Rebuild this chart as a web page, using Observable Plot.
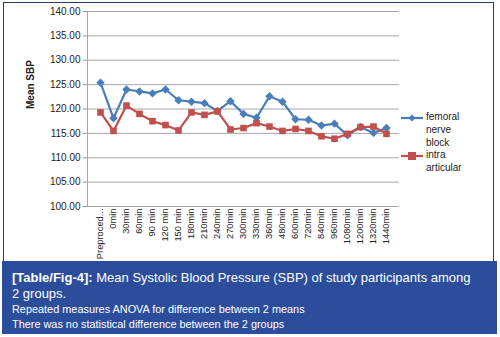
<!DOCTYPE html>
<html>
<head>
<meta charset="utf-8">
<script src="https://cdn.jsdelivr.net/npm/d3@7"></script>
<script src="https://cdn.jsdelivr.net/npm/@observablehq/plot@0.6"></script>
<style>
  html, body { margin: 0; padding: 0; background: #fff; }
  #wrap { position: relative; width: 500px; height: 337px; overflow: hidden; font-family: "Liberation Sans", Arial, sans-serif; }
  #chartbox { position: absolute; left: 3px; top: 2px; width: 491px; height: 259px; border: 1.5px solid #243e68; border-bottom: none; box-sizing: border-box; }
  #chart { position: absolute; left: 5px; top: 3px; }
  #legend { position: absolute; left: 400px; top: 110px; font-size: 10px; color: #222; line-height: 13px; }
  .li { position: relative; padding-left: 26px; }
  .li svg { position: absolute; left: 0; top: 3px; }
  #caption { position: absolute; left: 2px; top: 261px; width: 495px; height: 73px; background: #2b4d9b; color: #fff; box-sizing: border-box; padding: 9px 0 0 10px; }
  #caption .t1 { font-size: 13px; line-height: 15.5px; }
  #caption .t2 { font-size: 10.9px; line-height: 14.5px; margin-top: 1px; }
</style>
</head>
<body>
<div id="wrap">
  <div id="chartbox"></div>
  <div id="chart"></div>
  <div id="legend"></div>
  <div id="caption">
    <div class="t1"><b>[Table/Fig-4]:</b> Mean Systolic Blood Pressure (SBP) of study participants among<br>2 groups.</div>
    <div class="t2">Repeated measures ANOVA for difference between 2 means<br>There was no statistical difference between the 2 groups</div>
  </div>
</div>
<script>
const categories = ["Preproced...", "0min", "30min", "60min", "90 min", "120 min", "150 min", "180min", "210min", "240min", "270min", "300min", "330min", "360min", "480min", "600min", "720min", "840min", "960min", "1080min", "1200min", "1320min", "1440min"];
const femoral = [125.4, 118.1, 124.0, 123.6, 123.2, 124.0, 121.8, 121.5, 121.2, 119.6, 121.6, 119.0, 118.2, 122.6, 121.5, 117.9, 117.8, 116.6, 117.0, 114.6, 116.3, 115.1, 116.1];
const intra = [119.3, 115.5, 120.7, 119.0, 117.5, 116.7, 115.6, 119.3, 118.8, 119.5, 115.8, 116.1, 117.1, 116.4, 115.5, 115.9, 115.5, 114.4, 113.9, 114.9, 116.3, 116.4, 114.9];
const yTicks = [100, 105, 110, 115, 120, 125, 130, 135, 140];
const seriesNames = ["femoral nerve block", "intra articular"];
const seriesColors = ["#4a7ebb", "#c0504d"];

const fem = categories.map((c, i) => ({cat: c, v: femoral[i]}));
const ia = categories.map((c, i) => ({cat: c, v: intra[i]}));

const chart = Plot.plot({
  width: 490,
  height: 258,
  marginLeft: 82,
  marginRight: 96,
  marginTop: 8,
  marginBottom: 55,
  style: {fontFamily: "Liberation Sans, Arial, sans-serif", fontSize: "10px", color: "#222", background: "transparent"},
  x: {type: "point", domain: categories, padding: 0.5, align: 0.5, label: null},
  y: {domain: [100, 140], ticks: yTicks, label: null},
  marks: [
    Plot.gridY(yTicks, {stroke: "#a6a6a6", strokeOpacity: 1, strokeWidth: 1}),
    Plot.axisY(yTicks, {tickFormat: d3.format(".2f"), tickSize: 4, tickPadding: 3, stroke: "#999", fill: "#222", fontSize: 10}),
    Plot.axisX({tickRotate: -90, tickSize: 0, tickPadding: 2, fill: "#222", fontSize: 9.3}),
    Plot.ruleY([100], {stroke: "#a6a6a6"}),
    Plot.line(fem, {x: "cat", y: "v", stroke: seriesColors[0], strokeWidth: 2.2}),
    Plot.dot(fem, {x: "cat", y: "v", symbol: "diamond2", fill: seriesColors[0], r: 3.8}),
    Plot.line(ia, {x: "cat", y: "v", stroke: seriesColors[1], strokeWidth: 2.2}),
    Plot.dot(ia, {x: "cat", y: "v", symbol: "square2", fill: seriesColors[1], r: 4.2}),
    Plot.text(["Mean SBP"], {frameAnchor: "left", dx: -57, rotate: -90, fontWeight: "bold", fontSize: 10, fill: "#222"})
  ]
});
document.getElementById("chart").appendChild(chart);
const svg = d3.select(chart);
// left axis line
svg.append("line").attr("x1", 82.5).attr("x2", 82.5).attr("y1", 8).attr("y2", 203).attr("stroke", "#a6a6a6");

// legend
const legend = d3.select("#legend");
const items = [
  {name: ["femoral", "nerve", "block"], color: seriesColors[0], sym: "diamond"},
  {name: ["intra", "articular"], color: seriesColors[1], sym: "square"}
];
items.forEach((it, k) => {
  const div = legend.append("div").attr("class", "li").style("margin-top", k === 1 ? "-1px" : "0px");
  const s = div.append("svg").attr("width", 24).attr("height", 10);
  s.append("line").attr("x1", 1).attr("x2", 23).attr("y1", 5).attr("y2", 5).attr("stroke", it.color).attr("stroke-width", 2.2);
  if (it.sym === "diamond") s.append("path").attr("d", "M12,1.5L15.5,5L12,8.5L8.5,5Z").attr("fill", it.color);
  else s.append("rect").attr("x", 8).attr("y", 1).attr("width", 8).attr("height", 8).attr("fill", it.color);
  div.append("div").html(it.name.join("<br>"));
});
</script>
</body>
</html>
